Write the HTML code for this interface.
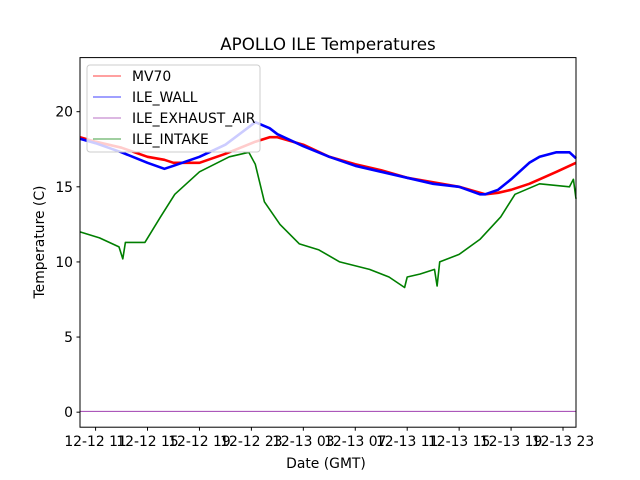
<!DOCTYPE html>
<html><head><meta charset="utf-8"><style>
body{margin:0;background:#fff;}
svg{display:block;font-family:"DejaVu Sans","Liberation Sans",sans-serif;}
</style></head><body>
<svg id="chart" width="640" height="480">
<rect width="640" height="480" fill="#fff"/>
<text x="328" y="50" font-size="16.7" text-anchor="middle">APOLLO ILE Temperatures</text>
<g id="plot"></g>
<text x="326" y="468" font-size="13.9" text-anchor="middle">Date (GMT)</text>
<text transform="translate(44,242) rotate(-90)" font-size="13.9" text-anchor="middle">Temperature (C)</text>
</svg>
<script>
const hours=[9.8,11,13,15,16.3,17,19,21,23.3,24.4,25,27,29,31,33,35,37,39,40.6,41,42,43,44.4,45.2,46.5,47.5,48];
const mv70=[18.3,18,17.6,17,16.8,16.6,16.6,17.2,18,18.3,18.3,17.8,17,16.5,16.1,15.6,15.3,15,14.6,14.5,14.6,14.8,15.2,15.5,16,16.4,16.6];
const wall=[18.2,17.9,17.3,16.6,16.2,16.4,17,17.8,19.3,18.9,18.5,17.7,17,16.4,16,15.6,15.2,15,14.5,14.5,14.8,15.5,16.6,17,17.3,17.3,16.9];
const gHours=[9.8,11.3,12.8,13.1,13.3,14.8,16,17.1,19,21.3,22.8,23.3,24,25.2,26.7,28.2,29.8,32.1,33.6,34.8,35,36,37.1,37.3,37.5,39,40.6,42.2,43.3,45.2,47.5,47.8,48];
const intake=[12,11.6,11,10.2,11.3,11.3,13,14.5,16,17,17.3,16.5,14,12.5,11.2,10.8,10,9.5,9,8.3,9,9.2,9.5,8.4,10,10.5,11.5,13,14.5,15.2,15,15.5,14.2];
const exhaust=[0.05,0.05];
const exHours=[9.8,48];
const yTicks=[0,5,10,15,20];
const xTickHours=[11,15,19,23,27,31,35,39,43,47];
const xTickLabels=["12-12 11","12-12 15","12-12 19","12-12 23","12-13 03","12-13 07","12-13 11","12-13 15","12-13 19","12-13 23"];
const L=80,R=576,T=57.6,B=427.2,x0=9.8,x1=48,y0=-1,y1=23.6;
const sx=h=>L+(h-x0)/(x1-x0)*(R-L);
const sy=v=>B-(v-y0)/(y1-y0)*(B-T);
const NS="http://www.w3.org/2000/svg";
const g=document.getElementById('plot');
function mk(t,a){const e=document.createElementNS(NS,t);for(const k in a)e.setAttribute(k,a[k]);g.appendChild(e);return e;}
function line(xs,ys,c,w,name){
 const e=mk('polyline',{points:xs.map((h,i)=>sx(h).toFixed(1)+','+sy(ys[i]).toFixed(1)).join(' '),fill:'none',stroke:c,'stroke-width':w,'stroke-linejoin':'round'});
 
 
}
line(exHours,exhaust,'#a040b0',1,'series-ile-exhaust-air');
line(gHours,intake,'#007f00',1.6,'series-ile-intake');
line(hours,mv70,'#ff0000',2.6,'series-mv70');
line(hours,wall,'#0000ff',2.6,'series-ile-wall');
const fr=mk('rect',{x:L,y:T,width:R-L,height:B-T,fill:'none',stroke:'#000','stroke-width':1});


yTicks.forEach(v=>{
 const t=mk('line',{x1:L-3.5,x2:L,y1:sy(v),y2:sy(v),stroke:'#000'});
 
 
 const l=mk('text',{x:L-7,y:sy(v)+5,'font-size':13.9,'text-anchor':'end'});l.textContent=v;
 
 
});
xTickHours.forEach((h,i)=>{
 const t=mk('line',{x1:sx(h),x2:sx(h),y1:B,y2:B+3.5,stroke:'#000'});
 
 
 const l=mk('text',{x:sx(h),y:B+19,'font-size':13.9,'text-anchor':'middle'});l.textContent=xTickLabels[i];
 
 
});
const lg=mk('rect',{x:87,y:65,width:173,height:87,rx:3,fill:'rgba(255,255,255,0.8)',stroke:'#ccc'});


const names=['MV70','ILE_WALL','ILE_EXHAUST_AIR','ILE_INTAKE'];
const cols=['#ff0000','#0000ff','#a040b0','#007f00'];
names.forEach((n,i)=>{
 const y=76+i*21;
 const s=mk('line',{x1:93,x2:121,y1:y,y2:y,stroke:cols[i],'stroke-width':0.8});
 
 
 const t=mk('text',{x:132,y:y+5,'font-size':13.9});t.textContent=n;
 
 
});
</script>
</body></html>
